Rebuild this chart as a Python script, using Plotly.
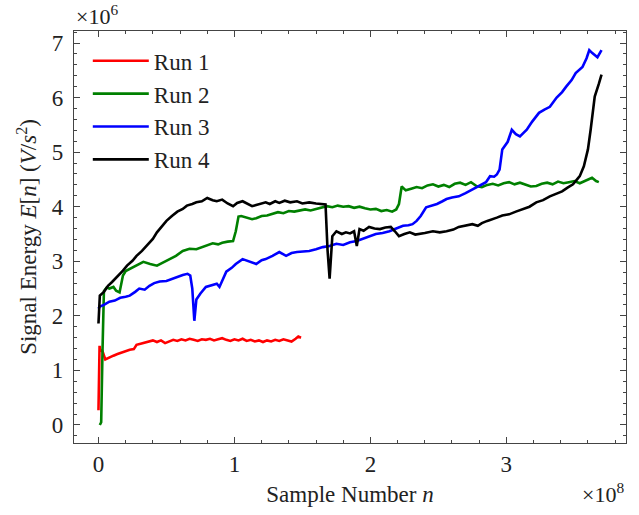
import plotly.graph_objects as go

# x in units of 1e8 samples, y in units of 1e6 V/s^2
run1_x = [0.0, 0.003, 0.008, 0.012, 0.03, 0.05, 0.08, 0.11, 0.14, 0.17, 0.2, 0.23, 0.26, 0.28, 0.31,
          0.34, 0.37, 0.40, 0.43, 0.46, 0.49, 0.52, 0.55, 0.58, 0.61, 0.64, 0.67, 0.70, 0.73, 0.76,
          0.79, 0.82, 0.85, 0.88, 0.91, 0.94, 0.97, 1.00, 1.03, 1.06, 1.09, 1.12, 1.15, 1.18, 1.21,
          1.24, 1.27, 1.30, 1.33, 1.36, 1.39, 1.42, 1.45, 1.47, 1.49]
run1_y = [0.27, 0.9, 1.45, 1.38, 1.35, 1.20, 1.24, 1.27, 1.30, 1.33, 1.36, 1.38, 1.39, 1.47, 1.49,
          1.51, 1.53, 1.55, 1.52, 1.55, 1.50, 1.53, 1.56, 1.54, 1.57, 1.55, 1.58, 1.56, 1.54, 1.57,
          1.56, 1.58, 1.55, 1.57, 1.59, 1.56, 1.54, 1.57, 1.55, 1.58, 1.54, 1.56, 1.53, 1.55, 1.52,
          1.55, 1.53, 1.56, 1.54, 1.57, 1.55, 1.53, 1.58, 1.62, 1.60]

run2_x = [0.01, 0.02, 0.03, 0.04, 0.06, 0.08, 0.11, 0.13, 0.155, 0.17, 0.18, 0.2, 0.24, 0.28, 0.33,
          0.38, 0.43, 0.47, 0.52, 0.57, 0.62, 0.67, 0.72, 0.76, 0.80, 0.84, 0.88, 0.91, 0.95, 0.99,
          1.01, 1.03, 1.05, 1.09, 1.13, 1.16, 1.20, 1.24, 1.28, 1.32, 1.36, 1.40, 1.44, 1.48, 1.52,
          1.56, 1.60, 1.64, 1.68, 1.72, 1.76, 1.80, 1.84, 1.88, 1.92, 1.96, 2.00, 2.04, 2.08, 2.12,
          2.16, 2.19, 2.21, 2.23, 2.26, 2.30, 2.34, 2.38, 2.42, 2.46, 2.50, 2.54, 2.58, 2.62, 2.66,
          2.70, 2.74, 2.78, 2.82, 2.86, 2.90, 2.94, 2.98, 3.02, 3.06, 3.10, 3.14, 3.18, 3.22, 3.26,
          3.30, 3.34, 3.38, 3.42, 3.46, 3.50, 3.54, 3.58, 3.61, 3.63, 3.66, 3.68]
run2_y = [0.0, 0.05, 1.4, 2.45, 2.52, 2.50, 2.53, 2.46, 2.43, 2.60, 2.74, 2.82, 2.87, 2.93, 2.99,
          2.95, 2.92, 2.97, 3.04, 3.10, 3.19, 3.23, 3.22, 3.26, 3.29, 3.33, 3.31, 3.34, 3.36, 3.37,
          3.55, 3.82, 3.83, 3.80, 3.77, 3.79, 3.83, 3.84, 3.87, 3.90, 3.88, 3.92, 3.91, 3.93, 3.95,
          3.93, 3.96, 3.98, 4.01, 3.99, 4.02, 4.00, 4.01, 3.98, 4.00, 3.97, 3.95, 3.96, 3.92, 3.94,
          3.91, 3.95, 4.05, 4.37, 4.30, 4.33, 4.36, 4.34, 4.39, 4.41, 4.37, 4.40, 4.36, 4.42, 4.44,
          4.40, 4.45, 4.38, 4.36, 4.40, 4.42, 4.39, 4.43, 4.45, 4.41, 4.44, 4.40, 4.37, 4.38, 4.42,
          4.44, 4.41, 4.46, 4.43, 4.45, 4.47, 4.43, 4.48, 4.51, 4.53, 4.47, 4.45]

run3_x = [0.0, 0.01, 0.04, 0.08, 0.12, 0.16, 0.2, 0.23, 0.27, 0.30, 0.34, 0.375, 0.41, 0.45, 0.50,
          0.54, 0.58, 0.62, 0.655, 0.675, 0.69, 0.705, 0.72, 0.75, 0.79, 0.83, 0.87, 0.89, 0.91, 0.94,
          0.98, 1.01, 1.06, 1.11, 1.16, 1.20, 1.23, 1.28, 1.33, 1.38, 1.42, 1.46, 1.50, 1.55, 1.60,
          1.65, 1.70, 1.75, 1.80, 1.85, 1.90, 1.94, 1.99, 2.04, 2.09, 2.14, 2.19, 2.24, 2.28, 2.31,
          2.34, 2.37, 2.41, 2.45, 2.49, 2.53, 2.56, 2.60, 2.65, 2.70, 2.75, 2.79, 2.82, 2.85, 2.88,
          2.91, 2.93, 2.95, 2.97, 3.01, 3.04, 3.07, 3.10, 3.15, 3.19, 3.24, 3.28, 3.32, 3.37, 3.41,
          3.44, 3.48, 3.51, 3.56, 3.59, 3.61, 3.63, 3.65, 3.67, 3.70]
run3_y = [2.13, 2.17, 2.20, 2.26, 2.28, 2.33, 2.35, 2.37, 2.44, 2.50, 2.48, 2.55, 2.60, 2.63, 2.64,
          2.68, 2.72, 2.75, 2.77, 2.74, 2.50, 1.91, 2.30, 2.41, 2.53, 2.56, 2.59, 2.53, 2.64, 2.81,
          2.88, 2.95, 3.04, 2.99, 2.95, 3.02, 3.04, 3.10, 3.17, 3.10, 3.15, 3.17, 3.18, 3.19, 3.22,
          3.26, 3.28, 3.32, 3.30, 3.35, 3.37, 3.41, 3.45, 3.50, 3.52, 3.55, 3.60, 3.65, 3.66, 3.68,
          3.74, 3.83, 3.99, 4.02, 4.05, 4.10, 4.14, 4.17, 4.19, 4.25, 4.32, 4.37, 4.41, 4.45, 4.56,
          4.55, 4.59, 4.68, 5.05, 5.19, 5.41, 5.33, 5.29, 5.41, 5.56, 5.72, 5.78, 5.83, 6.00, 6.10,
          6.20, 6.32, 6.45, 6.56, 6.72, 6.87, 6.82, 6.78, 6.74, 6.87]

run4_x = [0.0, 0.005, 0.01, 0.04, 0.07, 0.10, 0.14, 0.18, 0.21, 0.25, 0.28, 0.32, 0.36, 0.40, 0.43,
          0.47, 0.50, 0.54, 0.58, 0.62, 0.65, 0.69, 0.72, 0.76, 0.80, 0.84, 0.87, 0.91, 0.95, 0.99,
          1.02, 1.06, 1.10, 1.13, 1.16, 1.20, 1.23, 1.26, 1.30, 1.33, 1.37, 1.41, 1.46, 1.50, 1.55,
          1.60, 1.65, 1.67, 1.685, 1.70, 1.72, 1.75, 1.79, 1.82, 1.85, 1.88, 1.90, 1.92, 1.95, 1.99,
          2.03, 2.07, 2.11, 2.15, 2.18, 2.21, 2.25, 2.29, 2.33, 2.36, 2.40, 2.46, 2.51, 2.56, 2.61,
          2.65, 2.70, 2.75, 2.79, 2.82, 2.86, 2.90, 2.93, 2.97, 3.02, 3.07, 3.12, 3.17, 3.22, 3.27,
          3.32, 3.37, 3.41, 3.45, 3.49, 3.52, 3.54, 3.57, 3.60, 3.62, 3.65, 3.68, 3.70]
run4_y = [1.86, 2.28, 2.37, 2.44, 2.55, 2.62, 2.72, 2.83, 2.92, 3.01, 3.10, 3.19, 3.30, 3.41, 3.53,
          3.65, 3.74, 3.83, 3.91, 3.96, 4.02, 4.05, 4.08, 4.10, 4.16, 4.12, 4.10, 4.13, 4.06, 4.01,
          4.07, 4.10, 4.04, 4.01, 4.03, 4.06, 4.08, 4.05, 4.10, 4.07, 4.11, 4.08, 4.10, 4.06, 4.08,
          4.06, 4.05, 4.04, 3.20, 2.68, 3.46, 3.55, 3.50, 3.53, 3.51, 3.55, 3.28, 3.59, 3.56, 3.63,
          3.60, 3.59, 3.62, 3.63, 3.55, 3.46, 3.50, 3.53, 3.49, 3.50, 3.52, 3.55, 3.53, 3.55, 3.58,
          3.63, 3.66, 3.68, 3.65, 3.70, 3.74, 3.77, 3.80, 3.84, 3.86, 3.91, 3.96, 4.00, 4.08, 4.12,
          4.19, 4.24, 4.28, 4.35, 4.41, 4.50, 4.56, 4.74, 5.05, 5.41, 6.02, 6.25, 6.42]

series_names = ["Run 1", "Run 2", "Run 3", "Run 4"]
series_colors = ["#ff0000", "#008000", "#0000ff", "#000000"]

x_ticks = [0, 1, 2, 3]
y_ticks = [0, 1, 2, 3, 4, 5, 6, 7]

FONT = "Liberation Serif"
FS = 23
TXT = "#222222"

fig = go.Figure()
for name, xs, ys, col in zip(series_names,
                             [run1_x, run2_x, run3_x, run4_x],
                             [run1_y, run2_y, run3_y, run4_y],
                             series_colors):
    fig.add_trace(go.Scatter(x=xs, y=ys, mode="lines", name=name,
                             line=dict(color=col, width=2.6)))

axis_common = dict(
    showline=True, linecolor="#444444", linewidth=1.2, mirror="allticks",
    ticks="inside", ticklen=6, tickwidth=1, tickcolor="#444444",
    showgrid=False, zeroline=False,
    tickfont=dict(family=FONT, size=FS, color=TXT),
    minor=dict(ticks="inside", ticklen=3, tickwidth=1, tickcolor="#444444", dtick=0.2, showgrid=False),
)

fig.update_xaxes(range=[-0.18, 3.88], tickvals=x_ticks, ticktext=[str(v) for v in x_ticks],
                 title=dict(text="Sample Number <i>n</i>", font=dict(family=FONT, size=FS, color=TXT),
                            standoff=10),
                 **axis_common)
fig.update_yaxes(range=[-0.33, 7.22], tickvals=y_ticks, ticktext=[str(v) for v in y_ticks],
                 ticklabelstandoff=5,
                 title=dict(text="Signal Energy <i>E</i>[<i>n</i>] (<i>V</i>/<i>s</i><sup>2</sup>)",
                            font=dict(family=FONT, size=FS, color=TXT), standoff=8),
                 **axis_common)

fig.add_annotation(xref="paper", yref="paper", x=0.0, y=1.0, xanchor="left", yanchor="bottom",
                   text="×10<sup>6</sup>", showarrow=False,
                   font=dict(family=FONT, size=22, color=TXT), yshift=0)
fig.add_annotation(xref="paper", yref="paper", x=1.0, y=0.0, xanchor="right", yanchor="top",
                   text="×10<sup>8</sup>", showarrow=False,
                   font=dict(family=FONT, size=22, color=TXT), yshift=-34)

fig.update_layout(
    width=639, height=515,
    margin=dict(l=74, r=12, t=31, b=70),
    paper_bgcolor="white", plot_bgcolor="white",
    font=dict(family=FONT, size=FS, color=TXT),
    showlegend=True,
    legend=dict(x=0.025, y=0.98, xanchor="left", yanchor="top", bgcolor="rgba(0,0,0,0)",
                font=dict(family=FONT, size=FS, color=TXT), itemwidth=56),
)

fig.write_html("out.html")
